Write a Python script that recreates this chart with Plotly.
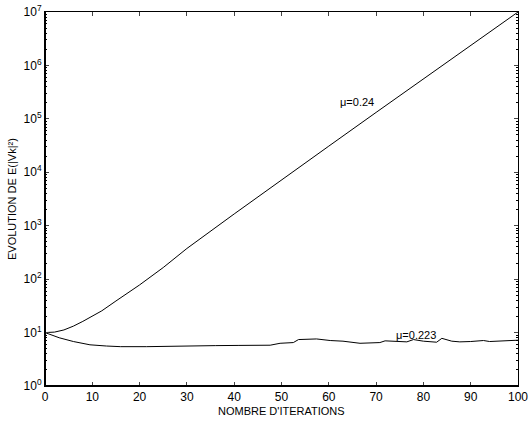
import math
import plotly.graph_objects as go

# Series
iter_a = [0, 2, 4, 6, 8, 10, 12, 15, 20, 25, 30, 40, 50, 60, 70, 80, 90, 100]
val_a = [10, 10.2, 11.2, 13.2, 16.2, 20.4, 25.5, 39, 78, 165, 375, 1660, 7240,
         30900, 132000, 562000, 2340000, 10000000]

iter_b = [0, 3, 6, 9.5, 13, 16, 21.5, 26, 30.7, 36, 41, 47.6, 49.7, 52.5, 53.6,
          57.4, 60.3, 63, 66.6, 70.8, 71.9, 74, 76.5, 77.9, 80, 82.8, 83.9, 86,
          87.7, 90, 92.7, 94, 97, 100]
val_b = [10, 8.0, 6.8, 5.9, 5.6, 5.45, 5.45, 5.55, 5.7, 5.7, 5.75, 5.8, 6.3,
         6.5, 7.4, 7.6, 7.1, 6.9, 6.3, 6.5, 7.0, 6.8, 6.7, 7.4, 6.9, 6.6, 7.8,
         6.9, 6.7, 6.8, 7.1, 6.8, 6.9, 7.2]

x_ticks = [0, 10, 20, 30, 40, 50, 60, 70, 80, 90, 100]
y_tickvals = [1, 10, 100, 1000, 10000, 100000, 1000000, 10000000]
y_ticktext = ["10<sup>%d</sup>" % i for i in range(8)]

labels = [("μ=0.24", 66, 2.1e5), ("μ=0.223", 78.4, 9.0)]

fig = go.Figure()
fig.add_trace(go.Scatter(x=iter_a, y=val_a, mode="lines",
                         line=dict(color="black", width=1),
                         showlegend=False))
fig.add_trace(go.Scatter(x=iter_b, y=val_b, mode="lines",
                         line=dict(color="black", width=1),
                         showlegend=False))

for txt, xx, yy in labels:
    fig.add_annotation(x=xx, y=math.log10(yy), text=txt, showarrow=False,
                       font=dict(size=11, color="black"))

# axis titles
fig.add_annotation(x=0.5, y=0, xref="paper", yref="paper", yanchor="top",
                   yshift=-17, text="NOMBRE D'ITERATIONS", showarrow=False,
                   font=dict(size=11, color="black"))
fig.add_annotation(x=0, y=0.5, xref="paper", yref="paper", xanchor="center",
                   xshift=-33, text="EVOLUTION DE E(|Vk|²)", textangle=-90,
                   showarrow=False, font=dict(size=11, color="black"))

fig.update_layout(
    width=532, height=425,
    margin=dict(l=45, r=14, t=12, b=39),
    paper_bgcolor="white", plot_bgcolor="white",
    font=dict(family="Liberation Sans, Arial, sans-serif", size=11, color="black"),
)
fig.update_xaxes(
    range=[0, 100], tickvals=x_ticks, ticks="inside", ticklen=4,
    showline=True, linecolor="black", linewidth=1, mirror="allticks",
    showgrid=False, zeroline=False, automargin=False,
    tickfont=dict(size=12),
)
fig.update_yaxes(
    type="log", range=[0, 7], tickvals=y_tickvals, ticktext=y_ticktext,
    ticks="inside", ticklen=4,
    showline=True, linecolor="black", linewidth=1, mirror="allticks",
    showgrid=False, zeroline=False, automargin=False,
    minor=dict(ticks="inside", ticklen=2, dtick="D1", showgrid=False, tickcolor="black"),
    tickfont=dict(size=12),
)
# thicker left and bottom axis lines
fig.add_shape(type="line", xref="paper", yref="paper", x0=0, x1=0, y0=0, y1=1,
              line=dict(color="black", width=2))
fig.add_shape(type="line", xref="paper", yref="paper", x0=0, x1=1, y0=0, y1=0,
              line=dict(color="black", width=2))

fig.write_html("out.html",
               config={"displayModeBar": False},
               post_script="document.body.style.margin='0';document.body.style.overflow='hidden';")
